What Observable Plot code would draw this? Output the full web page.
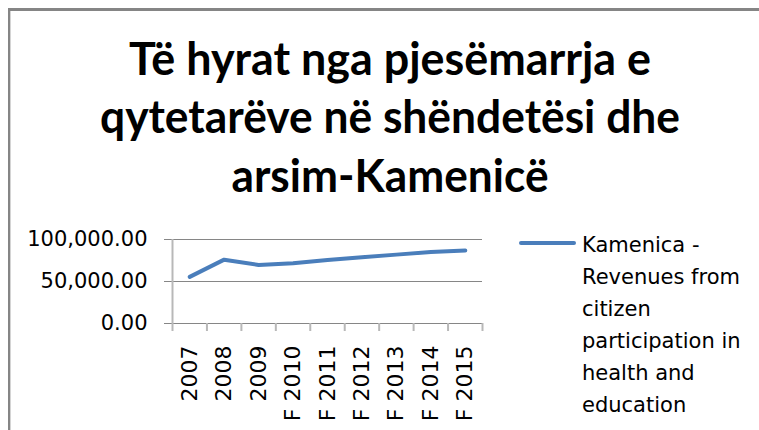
<!DOCTYPE html>
<html>
<head>
<meta charset="utf-8">
<script src="https://cdn.jsdelivr.net/npm/d3@7"></script>
<script src="https://cdn.jsdelivr.net/npm/@observablehq/plot@0.6"></script>
<style>
  html, body { margin: 0; padding: 0; background: #fff; }
  #chart { position: relative; width: 759px; height: 430px; overflow: hidden; background: #fff; }
  #frame {
    position: absolute; left: 8px; top: 8px; width: 820px; height: 500px;
    border-top: 3px solid #858585; border-left: 2px solid #858585;
    box-shadow: inset 1px 0 0 #d4d4d4;
  }
  #chart svg { position: absolute; left: 0; top: 0; overflow: visible; }
</style>
</head>
<body>
<div id="chart"><div id="frame"></div></div>
<script>
// Title lines, categories, values and legend text
const titleLines = ["Të hyrat nga pjesëmarrja e", "qytetarëve në shëndetësi dhe", "arsim-Kamenicë"];
const years = ["2007", "2008", "2009", "F 2010", "F 2011", "F 2012", "F 2013", "F 2014", "F 2015"];
const revenues = [55500, 76000, 69700, 71700, 75500, 79000, 82000, 85000, 87000];
const seriesName = "Kamenica - Revenues from citizen participation in health and education";
const legendLines = ["Kamenica -", "Revenues from", "citizen", "participation in", "health and", "education"];
const yTicks = [0, 50000, 100000];

const W = 759, H = 430;
const blue = "#4a7ebb";

// each category sits in the middle of its slot; tick marks fall between slots
const data = years.map((label, i) => ({label, pos: i + 0.5, value: revenues[i]}));

const chart = Plot.plot({
  width: W,
  height: H,
  marginLeft: 172,
  marginRight: 277,
  marginTop: 239,
  marginBottom: 107,
  style: {fontFamily: "DejaVu Sans", fontSize: "20px", color: "#000", background: "transparent"},
  x: {domain: [0, years.length], axis: null, label: null},
  y: {domain: [0, 100000], axis: null, label: null},
  marks: [
    Plot.gridY(yTicks, {stroke: "#868686", strokeOpacity: 1}),
    Plot.axisY(yTicks, {
      tickSize: 8, tickPadding: 17, label: null,
      tickFormat: d3.format(",.2f"), stroke: "#868686", fontSize: 21
    }),
    Plot.ruleX([0], {y1: 0, y2: 100000, stroke: "#b8b8b8", strokeWidth: 2}),
    Plot.axisX(d3.range(years.length + 1), {
      tickSize: 8, label: null, tickFormat: () => "", stroke: "#b8b8b8", strokeWidth: 2
    }),
    Plot.axisX(data.map(d => d.pos), {
      tickSize: 0, tickPadding: 22, tickRotate: -90, label: null,
      tickFormat: p => years[Math.floor(p)], fontSize: 22,
      ariaLabel: "year-labels"
    }),
    Plot.lineY(data, {
      x: "pos", y: "value", stroke: blue, strokeWidth: 4,
      strokeLinejoin: "round", strokeLinecap: "round", title: () => seriesName
    })
  ]
});

// squeeze the rotated year labels along their reading direction
d3.select(chart).selectAll("g[aria-label='year-labels'] text").each(function () {
  const t = this.getAttribute("transform") || "";
  this.setAttribute("transform", t + " scale(0.86,1)");
});

document.getElementById("chart").appendChild(chart);

// Title and legend drawn around the plot
const overlay = d3.create("svg").attr("width", W).attr("height", H);

const titleBaselines = [75, 133, 192];
const titleWidths = [522, 580, 317];
overlay.append("g")
  .attr("font-family", "Lato, 'Open Sans', sans-serif")
  .attr("font-weight", "bold")
  .attr("font-size", 45)
  .attr("text-anchor", "middle")
  .selectAll("text")
  .data(titleLines)
  .join("text")
  .attr("x", 390)
  .attr("y", (d, i) => titleBaselines[i])
  .attr("textLength", (d, i) => titleWidths[i])
  .attr("lengthAdjust", "spacingAndGlyphs")
  .text(d => d);

const legend = overlay.append("g");
legend.append("line")
  .attr("x1", 521).attr("x2", 574).attr("y1", 243).attr("y2", 243)
  .attr("stroke", blue).attr("stroke-width", 4).attr("stroke-linecap", "round");
legend.append("g")
  .attr("font-family", "DejaVu Sans")
  .attr("font-size", 21)
  .selectAll("text")
  .data(legendLines)
  .join("text")
  .attr("x", 582)
  .attr("y", (d, i) => 252 + 32 * i)
  .text(d => d);

document.getElementById("chart").appendChild(overlay.node());
</script>
</body>
</html>
